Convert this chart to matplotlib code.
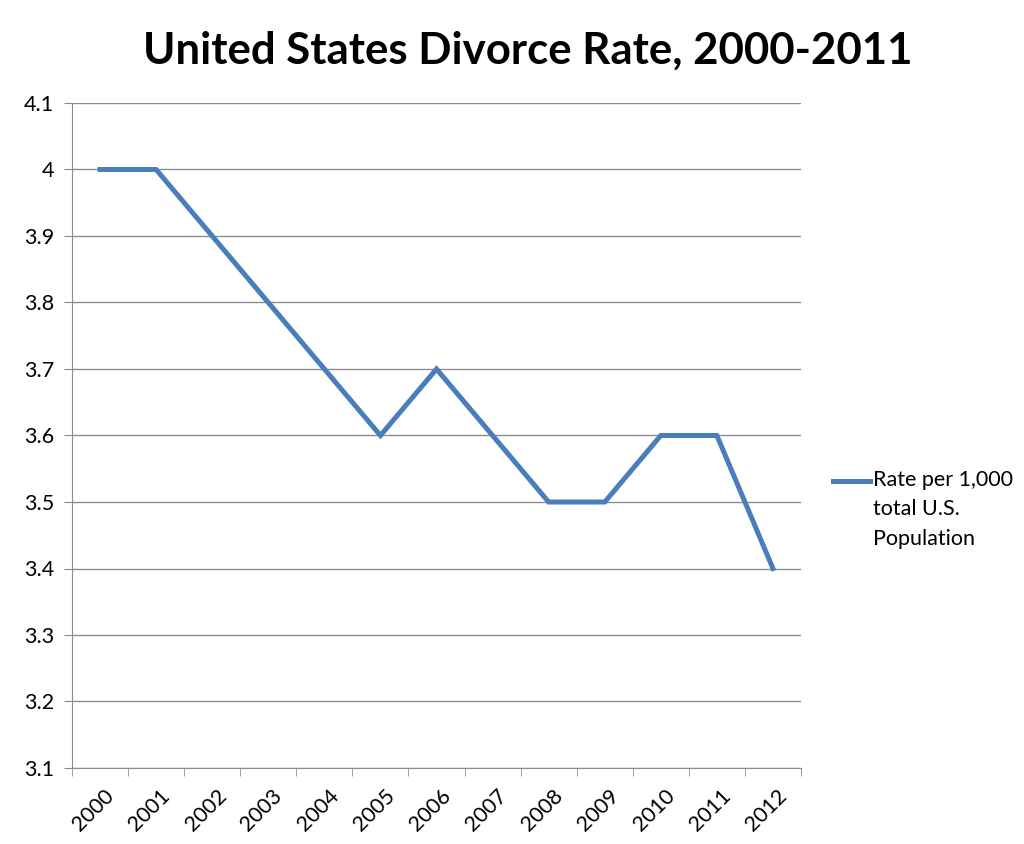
import matplotlib.pyplot as plt
import matplotlib.transforms as mtransforms
import numpy as np

years = ['2000', '2001', '2002', '2003', '2004', '2005', '2006',
         '2007', '2008', '2009', '2010', '2011', '2012']
rates = [4.0, 4.0, 3.9, 3.8, 3.7, 3.6, 3.7, 3.6, 3.5, 3.5, 3.6, 3.6, 3.4]
y_ticks = [3.1, 3.2, 3.3, 3.4, 3.5, 3.6, 3.7, 3.8, 3.9, 4.0, 4.1]
y_labels = ['3.1', '3.2', '3.3', '3.4', '3.5', '3.6', '3.7', '3.8', '3.9', '4', '4.1']
series_label = 'Rate per 1,000\ntotal U.S.\nPopulation'
title = 'United States Divorce Rate, 2000-2011'

plt.rcParams['font.family'] = ['Lato', 'DejaVu Sans']

fig = plt.figure(figsize=(10.24, 8.44), dpi=100)
ax = fig.add_axes([72 / 1024, 1 - 768 / 844, 729 / 1024, 665 / 844])

x = np.arange(len(years))
ax.plot(x, rates, color='#4a7ebb', linewidth=3.6, solid_joinstyle='miter',
        label=series_label)

ax.set_xlim(-0.5, len(years) - 0.5)
ax.set_ylim(3.1, 4.1)
ax.set_yticks(y_ticks)
ax.set_yticklabels(y_labels, fontsize=15.5)
ax.yaxis.grid(True, color='#8c8c8c', linewidth=1)
ax.set_axisbelow(True)

# labels at category centers, tick marks at category borders
ax.set_xticks(x)
ax.set_xticklabels(years, fontsize=15.5, rotation=45, ha='right', va='top',
                   rotation_mode='anchor')
ax.set_xticks(np.arange(-0.5, len(years)), minor=True)
ax.tick_params(axis='x', which='major', length=0, pad=13)
ax.tick_params(axis='x', which='minor', length=6, color='#8c8c8c')
ax.tick_params(axis='y', length=6, color='#8c8c8c', pad=7)
shift = mtransforms.ScaledTranslation(4 / 100, 0, fig.dpi_scale_trans)
for lbl in ax.get_xticklabels():
    lbl.set_transform(lbl.get_transform() + shift)

for side in ['top', 'right']:
    ax.spines[side].set_visible(False)
for side in ['left', 'bottom']:
    ax.spines[side].set_color('#8c8c8c')

leg = ax.legend(loc='center left', bbox_to_anchor=(1.017, 0.389), frameon=False,
                fontsize=15.5, handlelength=1.75, handletextpad=0.1)
for txt in leg.get_texts():
    txt.set_linespacing(1.6)

# put the legend line next to the first text line, as in the original
fig.canvas.draw()
handle = leg.get_lines()[0]
handle.set_ydata(np.asarray(handle.get_ydata()) + 21)

fig.text(0.515, 0.94, title, ha='center', va='center', fontsize=31.5,
         fontweight='bold')

fig.savefig('out.png', dpi=100)
